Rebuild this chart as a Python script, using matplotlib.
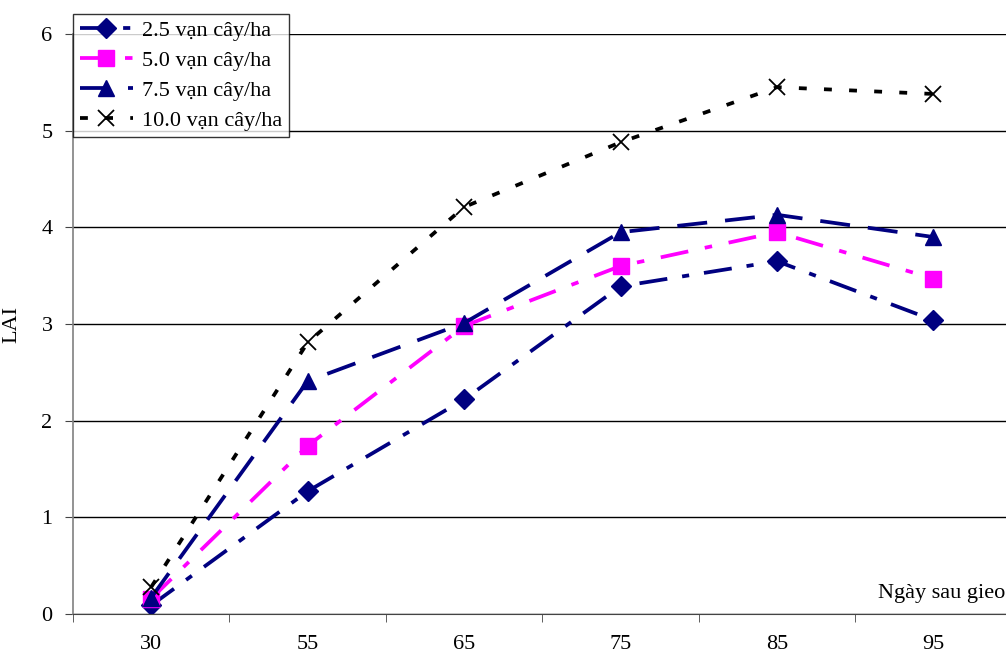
import numpy as np
import matplotlib.pyplot as plt

days = ["30", "55", "65", "75", "85", "95"]
lai_25 = [0.09, 1.27, 2.22, 3.39, 3.65, 3.04]
lai_50 = [0.16, 1.74, 2.98, 3.60, 3.95, 3.47]
lai_75 = [0.17, 2.41, 3.01, 3.95, 4.13, 3.90]
lai_100 = [0.28, 2.81, 4.21, 4.88, 5.45, 5.38]
labels = ["2.5 vạn cây/ha", "5.0 vạn cây/ha", "7.5 vạn cây/ha", "10.0 vạn cây/ha"]

plt.rcParams["font.family"] = ["Liberation Serif", "DejaVu Serif"]

fig = plt.figure(figsize=(10.06, 6.57), dpi=100)
ax = fig.add_axes([0.0726, 0.0654, 0.933, 0.8828])

x = np.arange(len(days))
navy = "#000080"
lw = 2.7
ax.plot(x, lai_25, color=navy, lw=lw, dashes=(7.5, 4, 1.9, 4),
        marker="D", ms=10.5, label=labels[0])
ax.plot(x, lai_50, color="#ff00ff", lw=lw, dashes=(7.5, 4.5, 2, 4.5),
        marker="s", ms=11, label=labels[1])
ax.plot(x, lai_75, color=navy, lw=lw, dashes=(8, 4.8),
        marker="^", ms=11.5, label=labels[2])
ax.plot(x, lai_100, color="black", lw=lw, dashes=(2.1, 4.6),
        marker="x", ms=12, mew=1.3, label=labels[3])

ax.set_xlim(-0.5, len(days) - 0.5)
ax.set_ylim(0, 6)
ax.set_yticks(range(7))
ax.yaxis.grid(True, color="black", lw=1.0)
ax.set_axisbelow(True)

ax.set_xticks(x)
ax.set_xticklabels(days, fontsize=16)
ax.set_xticks(np.arange(-0.5, len(days), 1), minor=True)
ax.tick_params(axis="x", which="major", length=0, pad=15)
ax.tick_params(axis="x", which="minor", length=5.5, direction="out", color="#444444")
ax.tick_params(axis="y", labelsize=16, length=5.8, pad=9, direction="out", color="#444444")

for s in ["top", "right"]:
    ax.spines[s].set_visible(False)
ax.spines["left"].set_color("#808080")
ax.spines["left"].set_linewidth(1.2)
ax.spines["bottom"].set_color("#444444")

ax.set_ylabel("LAI", fontsize=16)
ax.yaxis.set_label_coords(-0.055, 0.5)
# axis title sits partly outside the figure, as in the original
ax.text(0.858, 0.0276, "Ngày sau gieo", transform=ax.transAxes, fontsize=16,
        ha="left", va="baseline")

leg = ax.legend(loc="upper left", bbox_to_anchor=(0.0726, 0.979),
                bbox_transform=fig.transFigure, fontsize=16, frameon=True,
                fancybox=False, edgecolor="black", handlelength=2.4,
                borderpad=0.3, labelspacing=0.42, handletextpad=0.4,
                borderaxespad=0)
leg.get_frame().set_linewidth(1.0)

fig.savefig("out.png", dpi=100)
